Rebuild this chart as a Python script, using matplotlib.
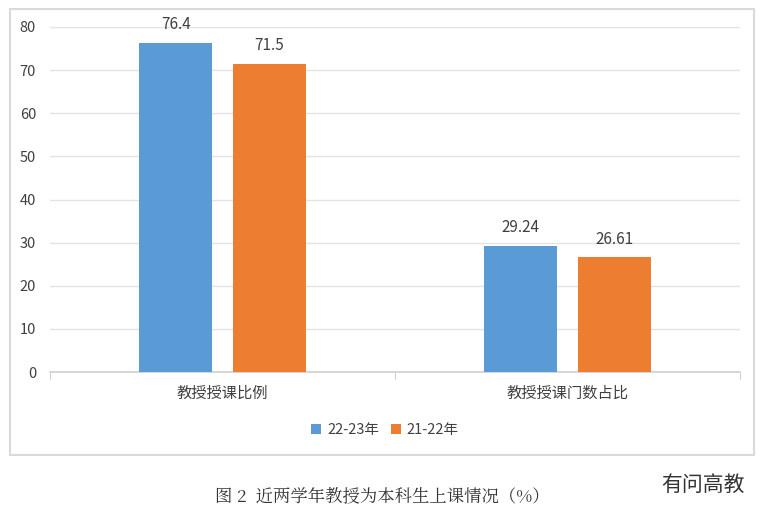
import matplotlib.pyplot as plt
from matplotlib.patches import Rectangle
import numpy as np

plt.rcParams['font.family'] = ['Noto Sans CJK SC', 'DejaVu Sans']

# data
categories = ['教授授课比例', '教授授课门数占比']
series_names = ['22-23年', '21-22年']
vals_2223 = [76.4, 29.24]
vals_2122 = [71.5, 26.61]
labels_2223 = ['76.4', '29.24']
labels_2122 = ['71.5', '26.61']
yticks = [0, 10, 20, 30, 40, 50, 60, 70, 80]

blue = '#5b9bd5'
orange = '#ed7d31'
txt = '#404040'

fig = plt.figure(figsize=(7.62, 5.12), dpi=100)

# outer chart frame
fig.patches.append(Rectangle((10 / 762, 1 - 455 / 512), 744 / 762, 446 / 512,
                             transform=fig.transFigure, fill=False,
                             edgecolor='#d9d9d9', linewidth=1.5))

ax = fig.add_axes([50 / 762, 1 - 372 / 512, 690 / 762, 345 / 512])
x = np.arange(len(categories))
w = 0.212
off = 0.135
b1 = ax.bar(x - off, vals_2223, w, color=blue, label=series_names[0], zorder=3)
b2 = ax.bar(x + off, vals_2122, w, color=orange, label=series_names[1], zorder=3)

for bars, labs in ((b1, labels_2223), (b2, labels_2122)):
    for r, lab in zip(bars, labs):
        ax.text(r.get_x() + r.get_width() / 2, r.get_height() + 2.2, lab,
                ha='center', va='bottom', fontsize=11, color=txt)

ax.set_xlim(-0.5, 1.5)
ax.set_ylim(0, 80)
ax.set_yticks(yticks)
ax.yaxis.grid(True, color='#e3e3e3', linewidth=1, zorder=0)
ax.tick_params(axis='y', length=0, labelsize=10.5, labelcolor=txt, pad=10)

ax.set_xticks([-0.5, 0.5, 1.5])
ax.set_xticklabels([])
ax.tick_params(axis='x', length=5, color='#d0d0d0', direction='out')
ax.set_xticks(x, minor=True)
ax.set_xticklabels(categories, minor=True)
ax.tick_params(axis='x', which='minor', length=0, labelsize=11, labelcolor=txt, pad=9)

for s in ('left', 'right', 'top'):
    ax.spines[s].set_visible(False)
ax.spines['bottom'].set_color('#d0d0d0')
ax.spines['bottom'].set_linewidth(1.2)

fig.legend(loc='center', bbox_to_anchor=(385 / 762, 1 - 430 / 512), ncol=2,
           frameon=False, fontsize=10.5, handlelength=0.7, handleheight=0.7,
           handletextpad=0.4, columnspacing=0.8, labelcolor=txt)

fig.text(382 / 762, 1 - 497 / 512, '图 2  近两学年教授为本科生上课情况（%）',
         ha='center', va='center', fontsize=12.5, color='#333333',
         family=['Noto Serif CJK SC', 'Noto Sans CJK SC', 'DejaVu Sans'])
fig.text(703 / 762, 1 - 485 / 512, '有问高教', ha='center', va='center',
         fontsize=15, color='#333333', fontweight='light')

fig.savefig('out.png', dpi=100)
